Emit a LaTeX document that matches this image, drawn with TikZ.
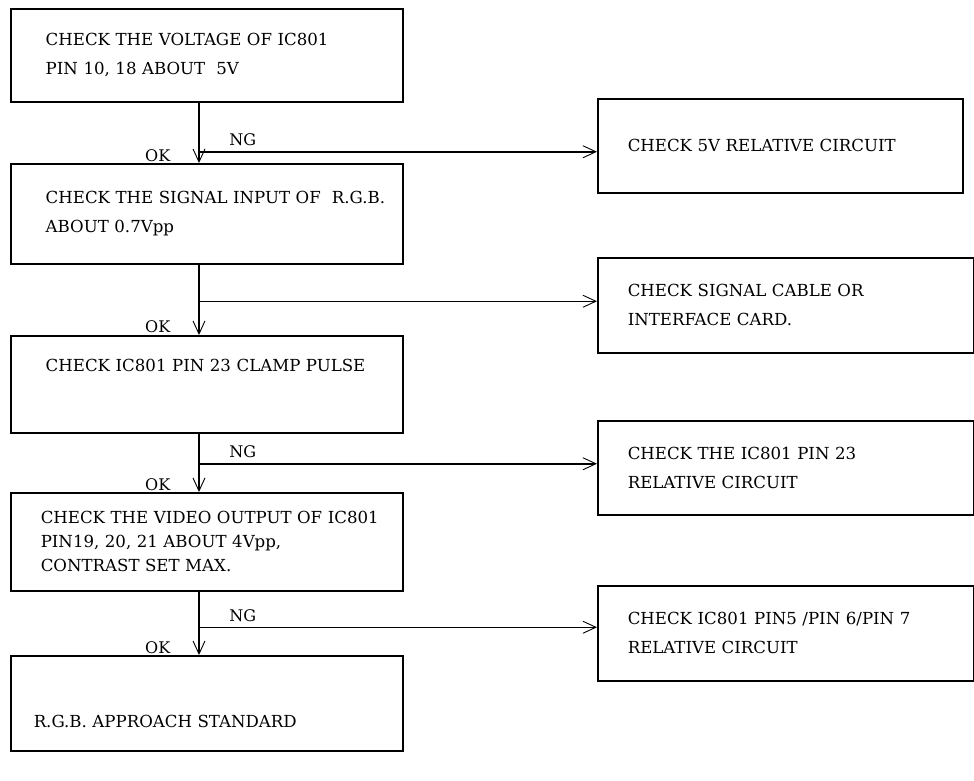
\documentclass[tikz,border=0pt]{standalone}
\usepackage{fontspec}
\setmainfont{DejaVu Serif}
\usetikzlibrary{arrows.meta,positioning}
\tikzset{
  padl/.style={execute at begin node={\leftskip=#1\relax}},
  chkbox/.style={draw, anchor=north west, align=left, inner xsep=0pt, inner ysep=0pt,
    text width=392pt, padl=35pt, font=\fontsize{16.6}{29}\selectfont},
  sidebox/.style={chkbox, text width=376pt, padl=30pt},
  tag/.style={font=\fontsize{16}{18}\selectfont, inner sep=0pt}
}
\begin{document}
\begin{tikzpicture}[x=1pt,y=-1pt,line width=1.5pt,
    >={Straight Barb[length=13pt,width=12pt,line width=0.9pt]}]
        \useasboundingbox (0,0) rectangle (974,780);
        \coordinate (spine) at (199,0);
        % main column
        \node[chkbox,minimum height=93pt] (b1) at (10,8) {CHECK THE VOLTAGE OF IC801\\PIN 10, 18 ABOUT\ \ 5V};
        \node[chkbox,minimum height=100pt] (b2) at (10,163) {CHECK THE SIGNAL INPUT OF\ \ R.G.B.\\ABOUT 0.7Vpp};
        \node[chkbox,minimum height=97pt] (b3) at (10,335) {CHECK IC801 PIN 23 CLAMP PULSE\\\strut};
        \node[chkbox,minimum height=98pt,padl=30pt,font=\fontsize{16.6}{24}\selectfont] (b4) at (10,492)
            {CHECK THE VIDEO OUTPUT OF IC801\\PIN19, 20, 21 ABOUT 4Vpp,\\CONTRAST SET MAX.};
        \node[chkbox,minimum height=95pt,padl=23pt] (b5) at (10,655) {\strut\\R.G.B. APPROACH STANDARD};
        % side column
        \node[sidebox,minimum height=94pt,text width=365pt] (r1) at (597,98) {CHECK 5V RELATIVE CIRCUIT};
        \node[sidebox,minimum height=95pt] (r2) at (597,257) {CHECK SIGNAL CABLE OR\\INTERFACE CARD.};
        \node[sidebox,minimum height=94pt] (r3) at (597,420) {CHECK THE IC801 PIN 23\\RELATIVE CIRCUIT};
        \node[sidebox,minimum height=95pt] (r4) at (597,585) {CHECK IC801 PIN5 /PIN 6/PIN 7\\RELATIVE CIRCUIT};
        % OK path
        \draw[->] (b1.south -| spine) -- node[tag,pos=0.88,left=28pt]{OK} (b2.north -| spine);
        \draw[->] (b2.south -| spine) -- node[tag,pos=0.88,left=28pt]{OK} (b3.north -| spine);
        \draw[->] (b3.south -| spine) -- node[tag,pos=0.88,left=28pt]{OK} (b4.north -| spine);
        \draw[->] (b4.south -| spine) -- node[tag,pos=0.88,left=28pt]{OK} (b5.north -| spine);
        % NG branches
        \draw[->] (b1.south -| spine) |- node[tag,pos=0.555,above=5pt]{NG} ([yshift=-6pt]r1.west);
        \draw[->] (b2.south -| spine) |- ([yshift=4pt]r2.west);
        \draw[->] (b3.south -| spine) |- node[tag,pos=0.555,above=5pt]{NG} ([yshift=4pt]r3.west);
        \draw[->] (b4.south -| spine) |- node[tag,pos=0.555,above=5pt]{NG} ([yshift=6pt]r4.west);
\end{tikzpicture}
\end{document}
